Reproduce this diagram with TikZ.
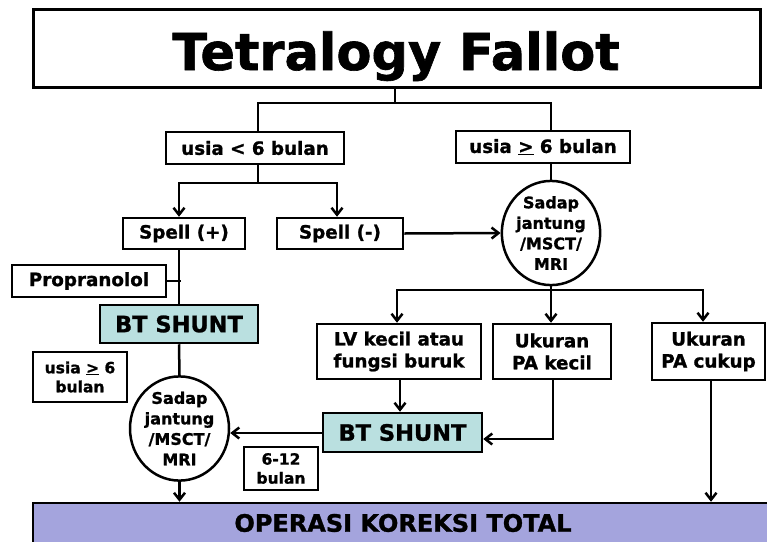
\documentclass[tikz,border=0pt]{standalone}
\usepackage{fontspec}
\setmainfont{DejaVu Sans}[BoldFeatures={FakeBold=1.2}]
\usetikzlibrary{arrows.meta,shapes.geometric}
\definecolor{shuntfill}{RGB}{186,224,224}
\definecolor{operfill}{RGB}{164,164,221}
\begin{document}
\begin{tikzpicture}[x=1pt,y=-1pt,
  line width=2.5pt,
  box/.style={draw,rectangle,inner sep=0pt,align=center,font=\bfseries\fontsize{18.3}{22}\selectfont},
  smallbox/.style={box,font=\bfseries\fontsize{15.5}{19}\selectfont},
  shuntbox/.style={box,fill=shuntfill,font=\bfseries\fontsize{22.5}{26}\selectfont},
  oval/.style={draw,ellipse,inner sep=0pt,align=center,fill=white,font=\bfseries\fontsize{16}{20.5}\selectfont},
  arr/.style={-{Straight Barb[length=7pt,width=11pt,line width=2.5pt]}}
]
\useasboundingbox (0,0) rectangle (767,541);
% nodes
\node[draw,line width=3pt,minimum width=727,minimum height=78,inner sep=0pt] (title) at (396.5,48) {};
\node[anchor=base,inner sep=0pt,font=\bfseries\fontsize{51}{56}\selectfont] (titletext) at (396,70) {Tetralogy Fallot};
\node[box,minimum width=178,minimum height=32] (lt6) at (255,148) {usia < 6 bulan};
\node[box,minimum width=174,minimum height=32] (ge6) at (543,147) {usia \underline{>} 6 bulan};
\node[box,minimum width=122,minimum height=31] (spellp) at (184,233.5) {Spell (+)};
\node[box,minimum width=126,minimum height=31] (spellm) at (340,233.5) {Spell (-)};
\node[oval,minimum width=98,minimum height=86] (sadap1) at (551,233) {Sadap\\jantung\\/MSCT/\\MRI};
\node[box,minimum width=154,minimum height=32] (propr) at (89,281) {Propranolol};
\node[shuntbox,minimum width=158,minimum height=38] (bt1) at (179,324) {BT SHUNT};
\node[smallbox,minimum width=94,minimum height=50] (ge6s) at (80,377) {usia \underline{>} 6\\bulan};
\node[oval,minimum width=99,minimum height=87] (sadap2) at (179.5,428.5) {Sadap\\jantung\\/MSCT/\\MRI};
\node[box,minimum width=164,minimum height=55] (lv) at (399,351.5) {LV kecil atau\\fungsi buruk};
\node[box,minimum width=118,minimum height=55] (pak) at (552,351.5) {Ukuran\\PA kecil};
\node[box,minimum width=113,minimum height=57] (pac) at (708.5,351.5) {Ukuran\\PA cukup};
\node[shuntbox,minimum width=159,minimum height=39] (bt2) at (402.5,432.5) {BT SHUNT};
\node[smallbox,minimum width=74,minimum height=43] (six) at (281,468.5) {6-12\\bulan};
\node[box,fill=operfill,minimum width=740,minimum height=40,font=\bfseries\fontsize{24}{28}\selectfont] (oper) at (403,523) {OPERASI KOREKSI TOTAL};
% junction coordinates
\coordinate (j0) at (395,103);
\coordinate (jl) at (258,103);
\coordinate (jr) at (551,103);
\coordinate (s0) at (258,183);
\coordinate (sl) at (179,183);
\coordinate (sr) at (337,183);
\coordinate (m0) at (551,290);
\coordinate (ml) at (397,290);
\coordinate (mr) at (703,290);
\coordinate (xlv) at (400,0);
\coordinate (xpk) at (553,439);
\coordinate (xpc) at (711,0);
\coordinate (xl) at (179,0);
\coordinate (tick) at (181,281);
\coordinate (ybt) at (0,433);
% connectors
\draw (title.south -| j0) -- (j0);
\draw (lt6.north -| jl) -- (jl) -- (jr) -- (ge6.north -| jr);
\draw (lt6.south -| s0) -- (s0);
\draw[arr] (s0) -- (sl) -- (spellp.north -| sl);
\draw[arr] (s0) -- (sr) -- (spellm.north -| sr);
\draw[arr] (spellm.east) -- (sadap1.west);
\draw (ge6.south -| sadap1) -- (sadap1.north);
\draw (sadap1.south) -- (m0);
\draw[arr] (m0) -- (ml) -- (lv.north -| ml);
\draw[arr] (m0) -- (pak.north -| m0);
\draw[arr] (m0) -- (mr) -- (pac.north -| mr);
\draw[arr] (lv.south -| xlv) -- (bt2.north -| xlv);
\draw[arr] (pak.south -| xpk) -- (xpk) -- (bt2.east |- xpk);
\draw[arr] (pac.south -| xpc) -- (oper.north -| xpc);
\draw (spellp.south -| xl) -- (bt1.north -| xl);
\draw (propr.east) -- (tick);
\draw (bt1.south -| xl) -- (sadap2.north);
\draw[arr] (bt2.west |- ybt) -- (sadap2.east |- ybt);
\draw[arr] (sadap2.south) -- (oper.north -| sadap2.south);
\end{tikzpicture}
\end{document}
